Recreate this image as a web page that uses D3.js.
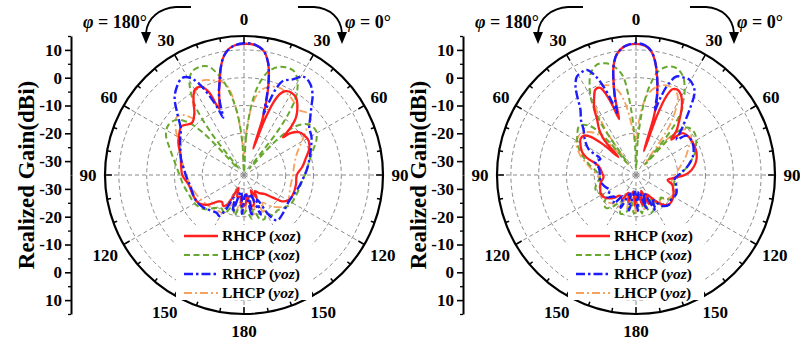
<!DOCTYPE html>
<html><head><meta charset="utf-8">
<script src="https://cdn.jsdelivr.net/npm/d3@7"></script>
<style>
body{margin:0;background:#fff}
svg text{font-family:"Liberation Serif","Times New Roman",serif;font-weight:bold;fill:#000}
</style>
</head><body>
<svg id="chart" width="800" height="343"></svg>
<script>
// Radial range (dBi) and tick values
const gainDomain = [-35, 15];
const gridGains = [-30, -20, -10, 0, 10];
const axisGains = [-30, -20, -10, 0, 10];
const minorGains = [-25, -15, -5, 5, 15];
const spokeAngles = [0, 30, 60, 90, 120, 150, 180, 210, 240, 270, 300, 330];
const minorAngles = d3.range(0, 360, 10);
const angleLabels = ["0", "30", "60", "90", "120", "150", "180", "150", "120", "90", "60", "30"];

const legendNames = ["RHCP", "LHCP", "RHCP", "LHCP"];
const legendPlanes = ["xoz", "xoz", "yoz", "yoz"];

// Panel 1 patterns: [theta (deg, clockwise from broadside), gain (dBi)]
const p1_rhcp_xoz = [[0,12.2],[5,11.9],[9,10.2],[12,6.5],[14,2],[15.5,-2.5],[17,-8],[18.3,-14],[19.3,-25],[20.5,-14],[22,-7],[24,-3],[26.5,-1.3],[30,-0.8],[34,-1.5],[38,-3.8],[42,-7],[44.5,-11],[46,-15.5],[48,-12.5],[52,-10],[57,-9],[62,-8.7],[68,-9.7],[75,-12],[82,-13.8],[90,-16],[100,-16],[108,-16],[118,-16.3],[124,-18],[128,-21.8],[133,-25],[140,-26.5],[146,-28],[151,-25.5],[156,-29],[161,-24],[167,-23.5],[172,-28],[177,-24.5],[184,-23.6],[190,-27],[197,-26.8],[203,-30],[209,-23],[214,-21.6],[219,-22.5],[224,-21.8],[231,-17.9],[238,-15.8],[247,-15.3],[260,-14.8],[270,-12.8],[280,-12],[288,-11],[295,-9],[301,-7.7],[308,-6.5],[315,-8.5],[321,-6.6],[326,-2.5],[330,0.4],[334,0.4],[337,-2.5],[339.5,-9.5],[341.5,-7],[343.5,-3.5],[346,1],[349,6.5],[352,10],[356,11.8]];
const p1_lhcp_xoz = [[0,-34],[3,-22],[6,-10],[9,-2.5],[13,3],[17,5.5],[21,6.5],[26,6.4],[30,3.5],[33.5,-1],[35.5,-6],[37.5,-15],[40,-32],[43,-18],[47,-9],[52,-5.5],[58,-4.6],[64,-6],[70,-8.5],[78,-11],[87,-12.6],[96,-14],[105,-14.6],[114,-15],[122,-15.2],[130,-16.5],[137,-17.5],[144,-17],[150,-19],[155,-17.5],[160,-18],[165,-22],[170,-19],[176,-22],[181,-21],[187,-24],[193,-20],[200,-23],[207,-19.5],[214,-20.5],[222,-19],[230,-16],[240,-14.5],[250,-14],[260,-13],[270,-11.8],[280,-9.8],[290,-6.5],[297,-3.5],[303,-2.4],[309,-3.5],[313,-7],[316,-14],[319,-32],[322,-16],[325,-4],[329,3],[333,6.5],[338,7],[342,6],[345,3],[348,-1],[351,-6.5],[354,-13],[357,-23]];
const p1_rhcp_yoz = [[0,12.4],[5,12],[9,10.2],[12,6.5],[14,2],[15.5,-3],[16.8,-8],[17.8,-12],[19,-7],[20.5,-1.5],[22.5,1.6],[27,3.6],[31,6.3],[35.5,5.7],[40.5,3],[44,0],[46,-1.5],[50,-4],[54,-6],[60,-7],[64,-8],[70,-9.5],[76,-10.7],[85,-12.3],[94,-13.8],[104,-15],[113,-16],[125,-16.2],[134,-15.4],[144,-14.8],[148,-18],[152,-25],[157,-19.5],[163,-28],[169,-20],[176,-28],[183,-21],[190,-29],[197,-21],[203,-26],[208,-20.8],[211,-17.8],[216,-18.2],[226,-17.1],[233,-16.1],[243,-15.4],[258,-15.3],[266,-14.5],[276,-13.2],[285,-11.5],[292,-10.3],[300,-8.5],[306,-6.9],[313,-2.1],[318,2.3],[323,5],[327.5,6.4],[331,5],[333.5,2],[336,-3],[338.5,-9],[340,-13],[341.5,-8],[343,-4],[345,-1],[347.5,4],[350.5,8.5],[354.5,11.3]];
const p1_lhcp_yoz = [[0,-30],[3,-20],[6,-11],[9,-6],[12,-3.5],[16,-2],[22,-1.1],[30,-2.2],[36,-3.5],[41,-4.3],[45,-3.2],[49,-3],[53,-6.5],[60,-11],[68,-14.5],[78,-16.5],[90,-17.4],[105,-17.8],[118,-16.8],[126,-16.2],[133,-18],[140,-20.5],[146,-23],[152,-19.5],[158,-25],[165,-20.5],[172,-26],[179,-21],[186,-26],[193,-20.5],[200,-24],[208,-19.5],[218,-19],[226,-18.3],[236,-17.5],[248,-16.5],[258,-15.5],[268,-14.5],[278,-13],[288,-11],[298,-8],[306,-4.5],[311,-3],[315,-4.5],[319,-8],[322,-6],[326,-2.4],[331,0.3],[335,2.2],[342,0.8],[348,-1.3],[351,-5],[353.5,-12],[356,-20],[358,-27]];

// Panel 2 patterns
const p2_rhcp_xoz = [[0,12.2],[4,11.6],[7,9.8],[9.5,6.5],[11.5,2.5],[13.5,-2],[15.5,-7],[17,-13],[18.2,-26],[19.5,-12],[21,-5],[23,-1.5],[26,-0.9],[29,-1.8],[32,-3.8],[35,-6.5],[39,-10.5],[42.5,-13.5],[45,-17],[48,-12.5],[54,-11.6],[62,-11.5],[70,-11.8],[78,-13],[85,-15],[90,-17.5],[94,-21],[99,-23.5],[105,-21.5],[112,-20.5],[120,-19.5],[128,-19],[134,-19.5],[140,-21.5],[146,-25],[151,-27],[156,-23.5],[162,-29],[168,-24],[175,-28],[182,-24],[189,-29],[196,-25],[203,-28],[210,-25],[218,-25.6],[223,-24],[228,-22.4],[235,-21],[242,-20.7],[250,-21.3],[258,-22],[266,-23.3],[273,-22.8],[280,-22],[285,-20.5],[289,-16.5],[293,-14],[298,-12.4],[303,-11.2],[307,-11.5],[310,-13.5],[313,-19],[315.5,-26],[318,-17.6],[321,-14],[325,-10.6],[328,-6.5],[331,-3.9],[334.5,-1],[337.7,-1.1],[340,-4.8],[341.5,-9],[343.2,-14],[344.5,-8],[346,-2],[348.3,4.9],[351,9],[355,11.5]];
const p2_lhcp_xoz = [[0,-33],[3,-22],[6,-10],[9,-2],[12,3],[16,5.5],[20.7,6.1],[25.5,4.3],[30.6,-0.7],[33,-4],[35,-6],[38,-14],[40.5,-30],[43,-15],[47,-10],[52,-9],[58,-9.5],[64,-11],[70,-12.5],[78,-15.5],[86,-18],[94,-20.5],[102,-21],[110,-20],[118,-19],[126,-20],[133,-23],[138,-20],[143,-22],[148,-25],[153,-21],[159,-20.5],[165,-25],[171,-21],[177,-24],[183,-21],[189,-25],[195,-21],[202,-20],[209,-24],[216,-21],[222,-19],[228,-19.5],[235,-22],[242,-20.5],[250,-19.5],[258,-20.5],[266,-22],[274,-21],[282,-18],[290,-14.5],[297,-11.5],[304,-9.5],[311,-8],[317,-11],[321,-20],[323.5,-30],[326,-12],[329,-4],[332,0.5],[336,5],[340.5,7.1],[345,6.6],[349,4.5],[352.5,0.8],[354.5,-6],[356.5,-15],[358.5,-26]];
const p2_rhcp_yoz = [[0,12.4],[4,11.8],[7,10],[9.5,6.5],[11.5,2.5],[13.5,-2],[15,-6],[16.2,-11],[17.5,-6],[19.5,-0.5],[22.3,3.3],[26,4],[29.4,4.3],[33,3],[35.5,1.3],[39.3,-4.5],[43.8,-10.6],[47,-14],[49,-15.6],[52,-12],[57,-11.5],[64,-12],[72,-13.5],[80,-16],[88,-19],[96,-21],[105,-20],[115,-19],[125,-19.5],[132,-19],[140,-20.5],[146,-24],[151,-20.5],[157,-28],[163,-22],[170,-29],[177,-22],[184,-29],[191,-22],[198,-28],[205,-22],[212,-26],[218,-22],[225,-24],[232,-22],[240,-24],[250,-23],[260,-22],[270,-22],[280,-21.5],[288,-19.5],[294,-21],[298.6,-15.6],[305,-12.5],[311,-10],[315,-7],[319.7,-4.1],[323,0],[325.7,3.6],[329,6.3],[332,6.8],[335,6.7],[338,3],[340.5,-3],[342,-8],[343,-11.6],[344.5,-7],[346,-2],[348.3,4.9],[351,9],[355,11.5]];
const p2_lhcp_yoz = [[0,-24],[3,-16],[6,-9],[9,-5],[13,-2.5],[17,-1.2],[21,-0.9],[25,-1.5],[28,-3],[31,-7],[34,-13],[36,-22],[38,-30],[41,-18],[45,-12],[50,-10],[56,-11],[62,-13.5],[70,-16],[80,-19],[90,-21],[100,-22],[110,-21],[120,-20],[128,-21],[135,-23],[140,-21],[146,-25],[152,-21.5],[159,-27],[166,-22],[173,-28],[180,-21],[187,-27],[194,-22],[201,-27],[208,-22],[216,-22],[225,-21],[232,-20],[240,-20.5],[250,-21],[260,-22],[270,-21],[280,-18],[290,-13.5],[297,-11],[304,-10],[311,-11.5],[317,-15],[321,-24],[323.5,-30],[326,-16],[329,-7],[332,-3],[335,-1],[338,-0.6],[342,-1],[346,-2.5],[349,-5],[352,-10],[355,-17],[358,-22]];

// Line styles for the four traces (same order as the legend)
const traceStyles = [
  {color: "#ff1f1f", width: 2.3, dash: null},
  {color: "#67a82e", width: 2.0, dash: "6,3.5"},
  {color: "#1c1cff", width: 2.4, dash: "9,3,2.5,3"},
  {color: "#f5a25e", width: 1.8, dash: "8,3,2,3"}
];
const drawOrder = [3, 1, 0, 2];

const panels = [
  {cx: 244, cy: 175, series: [p1_rhcp_xoz, p1_lhcp_xoz, p1_rhcp_yoz, p1_lhcp_yoz]},
  {cx: 636, cy: 175, series: [p2_rhcp_xoz, p2_lhcp_xoz, p2_rhcp_yoz, p2_lhcp_yoz]}
];

const R = 139;
const svg = d3.select("#chart");
const rScale = d3.scaleLinear().domain(gainDomain).range([0, R]).clamp(true);
const rad = d => d * Math.PI / 180;

panels.forEach(p => {
  const g = svg.append("g").attr("transform", `translate(${p.cx},${p.cy})`);

  // dashed grid circles and spokes
  g.selectAll("circle.grid").data(gridGains).join("circle")
    .attr("r", d => rScale(d)).attr("fill", "none")
    .attr("stroke", "#8a8a8a").attr("stroke-width", 1).attr("stroke-dasharray", "4,3");
  g.selectAll("line.spoke").data(spokeAngles).join("line")
    .attr("x1", 0).attr("y1", 0)
    .attr("x2", d => R * Math.sin(rad(d))).attr("y2", d => -R * Math.cos(rad(d)))
    .attr("stroke", "#8a8a8a").attr("stroke-width", 1).attr("stroke-dasharray", "4,3");

  // pattern traces
  const line = d3.lineRadial()
    .angle(d => rad(d[0]))
    .radius(d => rScale(d[1]))
    .curve(d3.curveCatmullRomClosed.alpha(0.5));
  drawOrder.forEach(i => {
    const s = traceStyles[i];
    g.append("path").datum(p.series[i])
      .attr("d", line).attr("fill", "none")
      .attr("stroke", s.color).attr("stroke-width", s.width)
      .attr("stroke-dasharray", s.dash)
      .attr("stroke-linejoin", "round");
  });

  // outer ring with angle ticks
  g.append("circle").attr("r", R).attr("fill", "none").attr("stroke", "#000").attr("stroke-width", 2.2);
  g.selectAll("line.minor").data(minorAngles).join("line")
    .attr("x1", d => R * Math.sin(rad(d))).attr("y1", d => -R * Math.cos(rad(d)))
    .attr("x2", d => (R - (d % 30 === 0 ? 7 : 4)) * Math.sin(rad(d)))
    .attr("y2", d => -(R - (d % 30 === 0 ? 7 : 4)) * Math.cos(rad(d)))
    .attr("stroke", "#000").attr("stroke-width", 1.5);

  // legend with white backing
  const lg = g.append("g");
  lg.append("rect").attr("x", -68).attr("y", 50).attr("width", 136).attr("height", 75).attr("fill", "#fff");
  legendNames.forEach((name, i) => {
    const y = 61 + i * 19;
    const s = traceStyles[i];
    lg.append("line").attr("x1", -60).attr("x2", -26).attr("y1", y).attr("y2", y)
      .attr("stroke", s.color).attr("stroke-width", s.width).attr("stroke-dasharray", s.dash);
    const t = lg.append("text").attr("x", -22).attr("y", y).attr("dy", "0.35em").style("font-size", "15.5px");
    t.append("tspan").text(name + " (");
    t.append("tspan").style("font-style", "italic").text(legendPlanes[i]);
    t.append("tspan").text(")");
  });

  // angle labels (wider labels pushed out sideways a little)
  spokeAngles.forEach((a, i) => {
    const lr = 156 + (angleLabels[i].length > 2 ? 5 * Math.abs(Math.sin(rad(a))) : 0);
    g.append("text").attr("x", lr * Math.sin(rad(a))).attr("y", -lr * Math.cos(rad(a)))
      .attr("dy", "0.35em").attr("text-anchor", "middle").style("font-size", "17px")
      .text(angleLabels[i]);
  });

  // radial gain axis, mirrored above and below the centre
  const ax = g.append("g").attr("transform", `translate(${-173},0)`);
  const yUp = d3.scaleLinear().domain(gainDomain).range([0, -R]);
  const yDown = d3.scaleLinear().domain(gainDomain).range([0, R]);
  [yUp, yDown].forEach(sc => {
    const major = ax.append("g").call(d3.axisLeft(sc).tickValues(axisGains).tickSize(6).tickSizeOuter(0).tickPadding(3).tickFormat(d => String(d)));
    major.select(".domain").attr("stroke-width", 2);
    major.selectAll(".tick line").attr("stroke-width", 1.6);
    major.selectAll("text").style("font-size", "17px");
    const minor = ax.append("g").call(d3.axisLeft(sc).tickValues(minorGains).tickSize(3).tickSizeOuter(0).tickFormat(""));
    minor.select(".domain").remove();
    minor.selectAll(".tick line").attr("stroke-width", 1.3);
  });
  ax.selectAll("text").attr("font-family", null).attr("font-size", null);

  g.append("text").attr("transform", `translate(${-218},0) rotate(-90)`)
    .attr("text-anchor", "middle").attr("dy", "0.35em").style("font-size", "23px")
    .text("Realized Gain(dBi)");

  // phi annotations with curved arrows
  const arrows = g.append("g").attr("stroke", "#000").attr("fill", "none").attr("stroke-width", 1.8);
  arrows.append("path").attr("d", "M-53,-168 L-68,-168 C-84,-167 -97,-157 -98,-142");
  arrows.append("path").attr("d", "M54,-168 L70,-168 C86,-167 97,-157 98,-142");
  g.append("path").attr("d", "M-103,-143 L-93,-143 L-98,-131 Z").attr("fill", "#000");
  g.append("path").attr("d", "M93,-143 L103,-143 L98,-131 Z").attr("fill", "#000");
  const phiL = g.append("text").attr("x", -97).attr("y", -147).attr("text-anchor", "end").style("font-size", "18px");
  phiL.append("tspan").style("font-style", "italic").text("φ");
  phiL.append("tspan").text(" = 180°");
  const phiR = g.append("text").attr("x", 101).attr("y", -147).attr("text-anchor", "start").style("font-size", "18px");
  phiR.append("tspan").style("font-style", "italic").text("φ");
  phiR.append("tspan").text(" = 0°");
});
</script>
</body></html>
